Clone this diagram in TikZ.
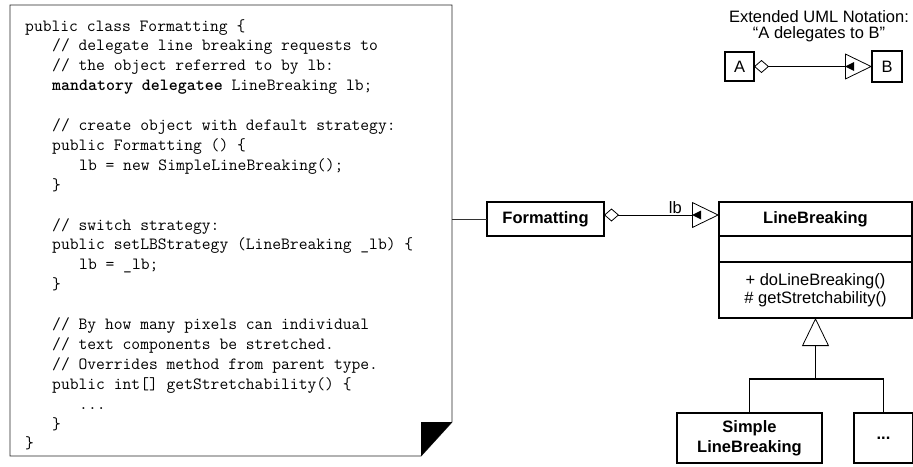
\documentclass[tikz,border=0pt]{standalone}
\usepackage{fontspec}
\setmainfont{Liberation Sans}
\setsansfont{Liberation Sans}
\tikzset{every picture/.style={/utils/exec={\sffamily}}}
\usetikzlibrary{positioning}
\usetikzlibrary{arrows.meta,decorations.markings}
\newcommand{\ind}{\hspace*{27pt}}
\newcommand{\umlfont}{\fontsize{16.5}{18}\selectfont}

\begin{document}
\begin{tikzpicture}[x=1pt, y=-1pt,
    classbox/.style={draw, line width=1.6pt, outer sep=0pt, inner sep=0pt, align=center, font=\umlfont},
    deleg/.style={line width=0.8pt,
      arrows={Diamond[open,length=15pt,width=13pt]-Triangle[open,length=27pt,width=26pt]},
      postaction=decorate,
      decoration={markings, mark=at position -27pt with {\fill (0pt,0pt) -- (9pt,4.5pt) -- (9pt,-4.5pt) -- cycle;}}},
    tree/.style={line width=1.6pt}]
  \useasboundingbox (0,0) rectangle (913,466);

  % the source code note
  \node [minimum width=442pt, minimum height=451pt, inner sep=0pt, outer sep=0pt, anchor=north west] (note) at (10,5) {};
  \draw [line width=0.9pt, black!85] (note.north west) -- (note.north east) -- ([yshift=34pt]note.south east)
    -- ([xshift=-31pt]note.south east) -- (note.south west) -- cycle;
  \fill ([yshift=34pt]note.south east) -- ([xshift=-31pt,yshift=34pt]note.south east) -- ([xshift=-31pt]note.south east) -- cycle;
  \node [anchor=north west, inner sep=0pt, align=left, font=\ttfamily\fontsize{17.1}{19.9}\selectfont] (src) at (25,19) {%
public class Formatting \{\\
\ind // delegate line breaking requests to\\
\ind // the object referred to by lb:\\
\ind \textbf{mandatory delegatee} LineBreaking lb;\\
\\
\ind // create object with default strategy:\\
\ind public Formatting () \{\\
\ind\ind lb = new SimpleLineBreaking();\\
\ind \}\\
\\
\ind // switch strategy:\\
\ind public setLBStrategy (LineBreaking \_lb) \{\\
\ind\ind lb = \_lb;\\
\ind \}\\
\\
\ind // By how many pixels can individual\\
\ind // text components be stretched.\\
\ind // Overrides method from parent type.\\
\ind public int[] getStretchability() \{\\
\ind\ind ...\\
\ind \}\\
\}};

  % classes
  \begin{scope}[every node/.style={classbox}]
    \node [font=\bfseries\umlfont, minimum width=117pt, minimum height=34pt] (fmt) at (545.5,219) {Formatting};
    \node [font=\bfseries\umlfont, minimum width=193pt, minimum height=34pt, right=115pt of fmt] (lbr) {LineBreaking};
    \node [minimum width=193pt, minimum height=26pt, below=0pt of lbr] (attr) {};
    \node [minimum width=193pt, minimum height=56pt, below=0pt of attr] (ops) {+ doLineBreaking()\\\# getStretchability()};
    \node [font=\bfseries\fontsize{16.5}{20}\selectfont, minimum width=145pt, minimum height=50pt] (simple) at (749.5,438) {Simple\\LineBreaking};
    \node [font=\bfseries\umlfont, minimum width=59pt, minimum height=50pt, right=32pt of simple] (dots) {...};
  \end{scope}

  \draw [line width=0.8pt, black!80] (fmt.west) -- (fmt.west -| note.east);
  \draw [deleg] ([yshift=4pt]fmt.east) -- ([yshift=4pt]lbr.west) node [pos=0.62, above, inner sep=1pt, font=\umlfont] {lb};

  \coordinate [below=61pt of ops.south] (fork);
  \draw [tree] (simple.north) |- (fork) -| (dots.north);
  \draw [tree, -{Triangle[open,length=28pt,width=27pt,line width=0.8pt]}] (fork) -- (ops.south);

  % legend
  \node [align=center, font=\fontsize{16.5}{15.5}\selectfont] (legend) at (819,26) {Extended UML Notation:\\“A delegates to B”};
  \begin{scope}[every node/.style={classbox, line width=1.2pt}]
    \node [minimum width=29pt, minimum height=29pt] (a) at (739.5,66.5) {A};
    \node [minimum width=30pt, minimum height=31pt, right=118pt of a] (b) {B};
  \end{scope}
  \draw [deleg] (a.east) -- (a.east -| b.west);

\end{tikzpicture}
\end{document}
